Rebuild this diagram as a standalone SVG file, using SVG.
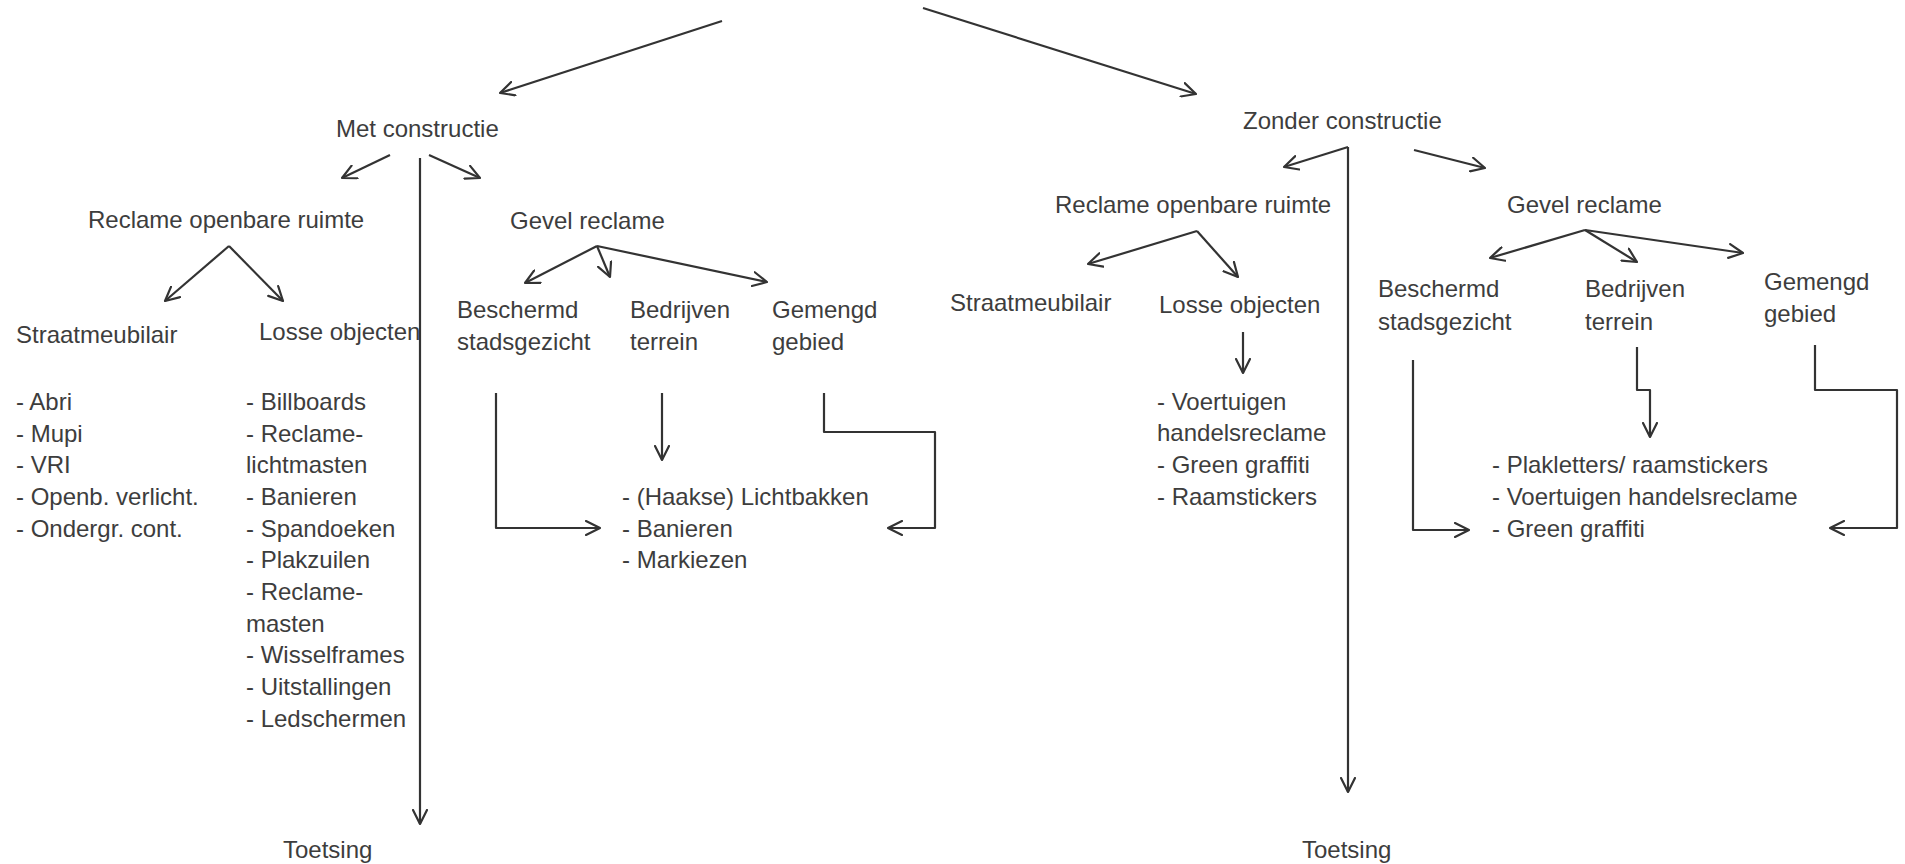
<svg xmlns="http://www.w3.org/2000/svg" width="1905" height="864" viewBox="0 0 1905 864">
<style>
text{font-family:"Liberation Sans",Arial,sans-serif;font-size:24px;fill:#3d3d3d}
.c path{fill:none;stroke:#333;stroke-width:2.2;stroke-linejoin:round}
</style>
<defs>
<marker id="a" viewBox="0 0 16 16" markerWidth="16" markerHeight="16" refX="15" refY="8" orient="auto" markerUnits="userSpaceOnUse">
<path d="M1,1 L15,8 L1,15" fill="none" stroke="#333" stroke-width="2.2" stroke-linejoin="round" stroke-linecap="round"/>
</marker>
</defs>
<rect width="1905" height="864" fill="#fff"/>
<g class="c" id="connectors">
<path d="M722,21 L500,93" marker-end="url(#a)"/>
<path d="M923,8 L1196,94" marker-end="url(#a)"/>
<path d="M390,155 L342,178" marker-end="url(#a)"/>
<path d="M420,158 V824" marker-end="url(#a)"/>
<path d="M429,155 L480,178" marker-end="url(#a)"/>
<path d="M229,246 L165,301" marker-end="url(#a)"/>
<path d="M229,246 L283,301" marker-end="url(#a)"/>
<path d="M597,246 L525,283" marker-end="url(#a)"/>
<path d="M597,246 L610,277" marker-end="url(#a)"/>
<path d="M597,246 L767,282" marker-end="url(#a)"/>
<path d="M496,393 V528 H600" marker-end="url(#a)"/>
<path d="M662,393 V460" marker-end="url(#a)"/>
<path d="M824,393 V432 H935 V528 H888" marker-end="url(#a)"/>
<path d="M1348,147 L1284,167" marker-end="url(#a)"/>
<path d="M1348,147 V792" marker-end="url(#a)"/>
<path d="M1414,150 L1485,168" marker-end="url(#a)"/>
<path d="M1197,231 L1088,264" marker-end="url(#a)"/>
<path d="M1197,231 L1238,277" marker-end="url(#a)"/>
<path d="M1243,332 V373" marker-end="url(#a)"/>
<path d="M1585,230 L1490,258" marker-end="url(#a)"/>
<path d="M1585,230 L1637,262" marker-end="url(#a)"/>
<path d="M1585,230 L1743,253" marker-end="url(#a)"/>
<path d="M1413,360 V530 H1469" marker-end="url(#a)"/>
<path d="M1637,347 V390 H1650 V437" marker-end="url(#a)"/>
<path d="M1815,345 V390 H1897 V528 H1830" marker-end="url(#a)"/>
</g>
<g id="met-constructie"><text x="336" y="137">Met constructie</text></g>
<g id="ror-left"><text x="88" y="228">Reclame openbare ruimte</text></g>
<g id="straat-left"><text x="16" y="343">Straatmeubilair</text></g>
<g id="losse-left"><text x="259" y="340">Losse objecten</text></g>
<g id="list-straat-left">
<text x="16" y="410">- Abri</text>
<text x="16" y="442">- Mupi</text>
<text x="16" y="473">- VRI</text>
<text x="16" y="505">- Openb. verlicht.</text>
<text x="16" y="537">- Ondergr. cont.</text>
</g>
<g id="list-losse-left">
<text x="246" y="410">- Billboards</text>
<text x="246" y="442">- Reclame-</text>
<text x="246" y="473">lichtmasten</text>
<text x="246" y="505">- Banieren</text>
<text x="246" y="537">- Spandoeken</text>
<text x="246" y="568">- Plakzuilen</text>
<text x="246" y="600">- Reclame-</text>
<text x="246" y="632">masten</text>
<text x="246" y="663">- Wisselframes</text>
<text x="246" y="695">- Uitstallingen</text>
<text x="246" y="727">- Ledschermen</text>
</g>
<g id="toetsing-left"><text x="283" y="858">Toetsing</text></g>
<g id="gevel-left"><text x="510" y="229">Gevel reclame</text></g>
<g id="beschermd-left"><text x="457" y="318">Beschermd</text><text x="457" y="350">stadsgezicht</text></g>
<g id="bedrijven-left"><text x="630" y="318">Bedrijven</text><text x="630" y="350">terrein</text></g>
<g id="gemengd-left"><text x="772" y="318">Gemengd</text><text x="772" y="350">gebied</text></g>
<g id="list-gevel-left">
<text x="622" y="505">- (Haakse) Lichtbakken</text>
<text x="622" y="537">- Banieren</text>
<text x="622" y="568">- Markiezen</text>
</g>
<g id="zonder-constructie"><text x="1243" y="129">Zonder constructie</text></g>
<g id="ror-right"><text x="1055" y="213">Reclame openbare ruimte</text></g>
<g id="straat-right"><text x="950" y="311">Straatmeubilair</text></g>
<g id="losse-right"><text x="1159" y="313">Losse objecten</text></g>
<g id="list-losse-right">
<text x="1157" y="410">- Voertuigen</text>
<text x="1157" y="441">handelsreclame</text>
<text x="1157" y="473">- Green graffiti</text>
<text x="1157" y="505">- Raamstickers</text>
</g>
<g id="toetsing-right"><text x="1302" y="858">Toetsing</text></g>
<g id="gevel-right"><text x="1507" y="213">Gevel reclame</text></g>
<g id="beschermd-right"><text x="1378" y="297">Beschermd</text><text x="1378" y="330">stadsgezicht</text></g>
<g id="bedrijven-right"><text x="1585" y="297">Bedrijven</text><text x="1585" y="330">terrein</text></g>
<g id="gemengd-right"><text x="1764" y="290">Gemengd</text><text x="1764" y="322">gebied</text></g>
<g id="list-gevel-right">
<text x="1492" y="473">- Plakletters/ raamstickers</text>
<text x="1492" y="505">- Voertuigen handelsreclame</text>
<text x="1492" y="537">- Green graffiti</text>
</g>
</svg>
